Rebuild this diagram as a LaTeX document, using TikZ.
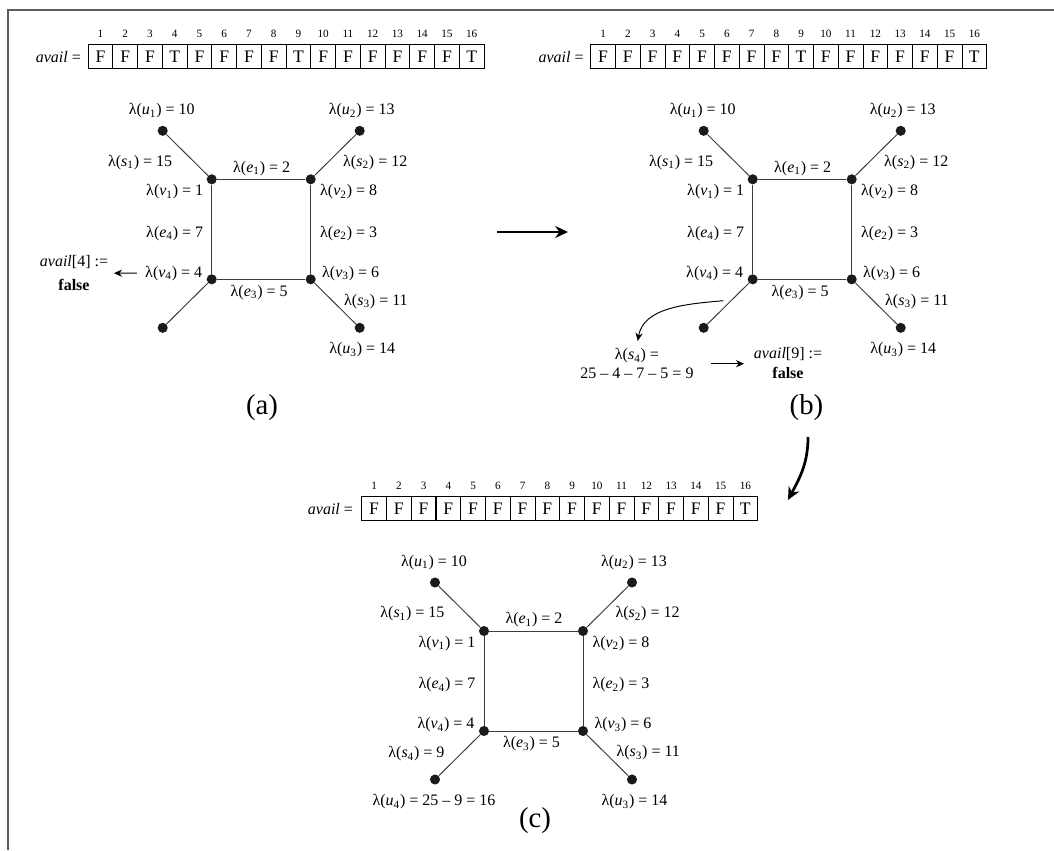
\documentclass[tikz,border=0pt]{standalone}
\usepackage{fontspec}
\setmainfont{Liberation Serif}
\usepackage{tikz}
\usetikzlibrary{arrows.meta,positioning}
\definecolor{Ink}{HTML}{1A1A1A}
\definecolor{Rule}{HTML}{5C5C5C}
\tikzset{
  vertex/.style={circle,fill=Ink,inner sep=0pt,minimum size=6.3pt},
  link/.style={draw=Ink!85,line width=0.6pt},
  lab/.style={font=\fontsize{10}{12}\selectfont,inner sep=2pt},
  cell/.style={draw,line width=0.6pt,minimum width=15.47pt,minimum height=15.2pt,
              inner sep=0pt,font=\fontsize{11}{12}\selectfont},
  idxnum/.style={font=\fontsize{7}{8}\selectfont,inner sep=1pt},
  note/.style={font=\fontsize{10}{12}\selectfont,align=center,inner sep=2pt},
  tag/.style={font=\fontsize{18}{20}\selectfont,inner sep=1pt},
  flow/.style={-{Stealth[length=8pt,width=7.5pt]},line width=1.7pt},
  thinflow/.style={-{Stealth[length=5pt,width=4.5pt]},line width=0.6pt},
  frameline/.style={draw=Rule,line width=1.1pt}
}
\newcommand\lmap[2]{λ(\textit{#1}\textsubscript{#2})}
% square with four pendant leaves, drawn around v1 = (0,0)
\newcommand\squaregraph[1]{%
  \node[vertex] (#1v1) at (0,0) {};
  \node[vertex] (#1v2) at (99,0) {};
  \node[vertex] (#1v3) at (99,100) {};
  \node[vertex] (#1v4) at (0,100) {};
  \node[vertex] (#1u1) at (-49,-48.5) {};
  \node[vertex] (#1u2) at (148,-48.5) {};
  \node[vertex] (#1u3) at (148,148.5) {};
  \node[vertex] (#1u4) at (-49,148.5) {};
  \draw[link] (#1v1) -- (#1v2) -- (#1v3) -- (#1v4) -- (#1v1);
  \draw[link] (#1v1) -- (#1u1);
  \draw[link] (#1v2) -- (#1u2);
  \draw[link] (#1v3) -- (#1u3);
  \draw[link] (#1v4) -- (#1u4);
  \node[lab] (#1lu1) at (-50,-68.5) {\lmap{u}{1} = 10};
  \node[lab] (#1lu2) at (150,-68.5) {\lmap{u}{2} = 13};
  \node[lab,anchor=east] (#1ls1) at (-36,-17) {\lmap{s}{1} = 15};
  \node[lab] (#1le1) at (50,-11) {\lmap{e}{1} = 2};
  \node[lab,anchor=west] (#1ls2) at (128,-17) {\lmap{s}{2} = 12};
  \node[lab,anchor=east] (#1lv1) at (-5,12.5) {\lmap{v}{1} = 1};
  \node[lab,anchor=west] (#1lv2) at (105,12.5) {\lmap{v}{2} = 8};
  \node[lab,anchor=east] (#1le4) at (-5,54) {\lmap{e}{4} = 7};
  \node[lab,anchor=west] (#1le2) at (105,54) {\lmap{e}{2} = 3};
  \node[lab,anchor=east] (#1lv4) at (-6,94) {\lmap{v}{4} = 4};
  \node[lab,anchor=west] (#1lv3) at (107,94) {\lmap{v}{3} = 6};
  \node[lab] (#1le3) at (47.5,113) {\lmap{e}{3} = 5};
  \node[lab,anchor=west] (#1ls3) at (129,122) {\lmap{s}{3} = 11};
  \node[lab] (#1lu3) at (150.5,170.7) {\lmap{u}{3} = 14};
}

\begin{document}
\begin{tikzpicture}[x=0.625pt,y=-0.625pt]
  \useasboundingbox (0,0) rectangle (1054,850);
  \draw[frameline] (8,850) -- (8,10) -- (1054,10);

  % availability arrays
  \foreach \v [count=\i] in {F,F,F,T,F,F,F,F,T,F,F,F,F,F,F,T}{
    \node[cell] (a-c\i) at ({100.4+24.75*(\i-1)},56.7) {\v};
    \node[idxnum,above=2.8pt of a-c\i] (a-n\i) {\i};
  }
  \node[lab,left=2pt of a-c1] (a-name) {\textit{avail} =};
  \foreach \v [count=\i] in {F,F,F,F,F,F,F,F,T,F,F,F,F,F,F,T}{
    \node[cell] (b-c\i) at ({603.1+24.75*(\i-1)},56.7) {\v};
    \node[idxnum,above=2.8pt of b-c\i] (b-n\i) {\i};
  }
  \node[lab,left=2pt of b-c1] (b-name) {\textit{avail} =};
  \foreach \v [count=\i] in {F,F,F,F,F,F,F,F,F,F,F,F,F,F,F,T}{
    \node[cell] (c-c\i) at ({374.1+24.75*(\i-1)},508.8) {\v};
    \node[idxnum,above=2.8pt of c-c\i] (c-n\i) {\i};
  }
  \node[lab,left=3pt of c-c1] (c-name) {\textit{avail} =};

  \begin{scope}[shift={(211.7,179.3)}]
    \squaregraph{a-}
    \node[note] (a-avail) at (-137.7,93.7) {\textit{avail}[4] :=\\[3pt]\textbf{false}};
    \draw[thinflow,shorten <=3pt,shorten >=1.5pt] (a-lv4) -- (a-avail);
  \end{scope}

  \begin{scope}[shift={(752.7,179.3)}]
    \squaregraph{b-}
    \coordinate (b-tail) at (-29.4,121.4);
    \node[note] (b-sum) at (-115.7,184.4) {\lmap{s}{4} =\\25 -- 4 -- 7 -- 5 = 9};
    \node[note] (b-avail) at (35.3,183.7) {\textit{avail}[9] :=\\\textbf{false}};
    \draw[thinflow,shorten >=2.5pt] (b-tail) to[out=185,in=80] (b-sum.north);
    \draw[thinflow,shorten <=9pt,shorten >=4pt] (b-sum.east) -- (b-avail.west |- b-sum.east);
  \end{scope}

  \begin{scope}[shift={(484,631)}]
    \squaregraph{c-}
    \node[lab,anchor=east] (c-ls4) at (-36,123) {\lmap{s}{4} = 9};
    \node[lab] (c-lu4) at (-50,170.7) {\lmap{u}{4} = 25 -- 9 = 16};
  \end{scope}

  \node[tag] (a-tag) at (262,408) {(a)};
  \node[tag] (b-tag) at (806.5,408) {(b)};
  \node[tag] (c-tag) at (535,821) {(c)};

  \coordinate (ab-from) at (497,232);
  \coordinate (ab-to) at (568,232);
  \draw[flow] (ab-from) -- (ab-to);
  \coordinate (bc-from) at (808,437);
  \coordinate (bc-to) at (788,500);
  \draw[flow] (bc-from) to[out=-90,in=62] (bc-to);
\end{tikzpicture}
\end{document}
